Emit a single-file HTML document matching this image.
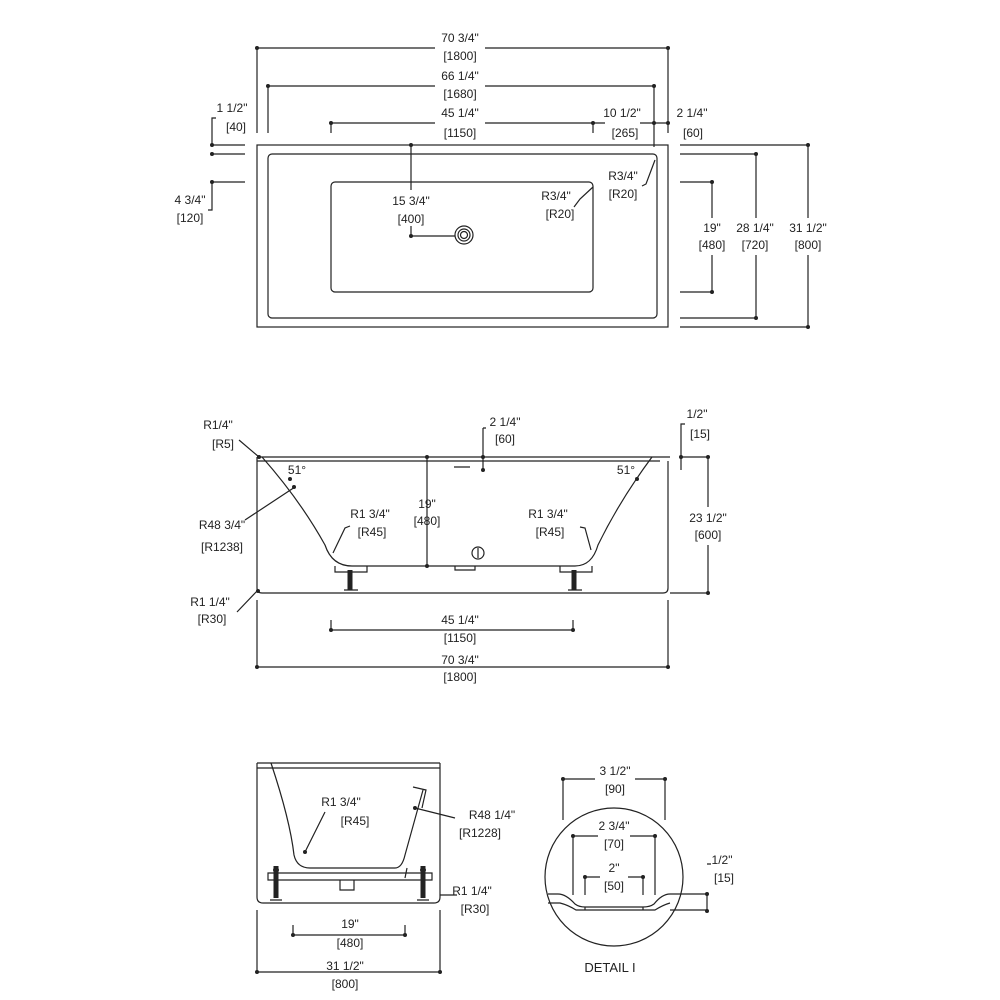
<!DOCTYPE html>
<html><head><style>body{margin:0;background:#fff}svg{display:block}text{font-family:"Liberation Sans",sans-serif;font-size:12px;fill:#222;text-anchor:middle}</style></head><body>
<svg width="1000" height="1000" viewBox="0 0 1000 1000" xmlns="http://www.w3.org/2000/svg" stroke="#222" stroke-width="1.2" fill="none">
<!-- TOP VIEW -->
<rect x="257" y="145" width="411" height="182"/>
<rect x="268" y="154" width="389" height="164" rx="4"/>
<rect x="331" y="182" width="262" height="110" rx="4"/>
<circle cx="464" cy="235" r="9"/><circle cx="464" cy="235" r="6"/><circle cx="464" cy="235" r="3.5"/>
<path d="M257 48H435M485 48H668M257 48V133M668 48V133M268 86H435M485 86H654M268 86V133M654 86V147M331 123H435M485 123H593M331 123V133M593 123V133M593 123H605M640 123H668M411 145V190M411 226V236H455"/>
<path d="M216 118H212V145M212 145H245M212 154H245M212 182H245M212 182V210H208M680 145H808M680 154H756M680 182H712M680 292H712M680 318H756M680 327H808M712 182V218M712 255V292M756 154V218M756 255V318M808 145V218M808 255V327M574 207L580 199 593 187M642 186L646 184 655 160"/>
<g fill="#222" stroke="none"><circle cx="257" cy="48" r="2"/><circle cx="668" cy="48" r="2"/><circle cx="268" cy="86" r="2"/><circle cx="654" cy="86" r="2"/><circle cx="331" cy="123" r="2"/><circle cx="593" cy="123" r="2"/><circle cx="654" cy="123" r="2"/><circle cx="668" cy="123" r="2"/><circle cx="212" cy="145" r="2"/><circle cx="212" cy="154" r="2"/><circle cx="212" cy="182" r="2"/><circle cx="411" cy="145" r="2"/><circle cx="411" cy="236" r="2"/><circle cx="712" cy="182" r="2"/><circle cx="712" cy="292" r="2"/><circle cx="756" cy="154" r="2"/><circle cx="756" cy="318" r="2"/><circle cx="808" cy="145" r="2"/><circle cx="808" cy="327" r="2"/></g>
<g stroke="none">
<text x="460" y="42">70 3/4"</text><text x="460" y="60">[1800]</text>
<text x="460" y="80">66 1/4"</text><text x="460" y="98">[1680]</text>
<text x="460" y="117">45 1/4"</text><text x="460" y="137">[1150]</text>
<text x="622" y="117">10 1/2"</text><text x="625" y="137">[265]</text>
<text x="692" y="117">2 1/4"</text><text x="693" y="137">[60]</text>
<text x="232" y="112">1 1/2"</text><text x="236" y="131">[40]</text>
<text x="190" y="204">4 3/4"</text><text x="190" y="222">[120]</text>
<text x="411" y="205">15 3/4"</text><text x="411" y="223">[400]</text>
<text x="556" y="200">R3/4"</text><text x="560" y="218">[R20]</text>
<text x="623" y="180">R3/4"</text><text x="623" y="198">[R20]</text>
<text x="712" y="232">19"</text><text x="712" y="249">[480]</text>
<text x="755" y="232">28 1/4"</text><text x="755" y="249">[720]</text>
<text x="808" y="232">31 1/2"</text><text x="808" y="249">[800]</text>
</g>
<!-- SIDE VIEW -->
<path d="M257 457H670M257 461H660M257 457V588Q257 593 262 593H663Q668 593 668 588V461"/>
<path d="M262 457Q300 500 325 545Q332 566 352 566H575Q592 566 598 545Q620 500 652 457"/>
<path d="M454 467H470M335 566V572H367V566M560 566V572H592V566M455 566V570H475V566"/>
<path d="M350 570V590M574 570V590" stroke-width="5"/><path d="M344 590H358M568 590H582"/>
<circle cx="478" cy="553" r="6"/><path d="M478 548V558"/>
<path d="M331 620V630H573V620M257 600V667H668V600M427 457V566M483 428V470M486 428H483M685 424H681V470M670 593H708M680 457H708M708 457V507M708 545V593"/>
<path d="M239 440L259 457M245 520L295 487M333 553L345 528 350 526M591 550L585 528 580 527M237 612L258 590"/>
<g fill="#222" stroke="none"><circle cx="259" cy="457" r="2"/><circle cx="294" cy="487" r="2"/><circle cx="331" cy="630" r="2"/><circle cx="573" cy="630" r="2"/><circle cx="257" cy="667" r="2"/><circle cx="668" cy="667" r="2"/><circle cx="427" cy="457" r="2"/><circle cx="427" cy="566" r="2"/><circle cx="483" cy="457" r="2"/><circle cx="483" cy="470" r="2"/><circle cx="681" cy="457" r="2"/><circle cx="708" cy="457" r="2"/><circle cx="708" cy="593" r="2"/><circle cx="258" cy="591" r="2"/><circle cx="290" cy="479" r="2"/><circle cx="637" cy="479" r="2"/></g>
<g stroke="none">
<text x="218" y="429">R1/4"</text><text x="223" y="448">[R5]</text>
<text x="222" y="529">R48 3/4"</text><text x="222" y="551">[R1238]</text>
<text x="370" y="518">R1 3/4"</text><text x="372" y="536">[R45]</text>
<text x="548" y="518">R1 3/4"</text><text x="550" y="536">[R45]</text>
<text x="297" y="474">51°</text><text x="626" y="474">51°</text>
<text x="427" y="508">19"</text><text x="427" y="525">[480]</text>
<text x="505" y="426">2 1/4"</text><text x="505" y="443">[60]</text>
<text x="697" y="418">1/2"</text><text x="700" y="438">[15]</text>
<text x="708" y="522">23 1/2"</text><text x="708" y="539">[600]</text>
<text x="210" y="606">R1 1/4"</text><text x="212" y="623">[R30]</text>
<text x="460" y="624">45 1/4"</text><text x="460" y="642">[1150]</text>
<text x="460" y="664">70 3/4"</text><text x="460" y="681">[1800]</text>
</g>
<!-- END VIEW -->
<path d="M257 763H440M257 768H440M257 763V897Q257 903 263 903H434Q440 903 440 897V763"/>
<path d="M271 763Q290 820 294 855Q297 868 310 868H395Q402 868 405 855L423 790M413 787L426 790 422 808M407 868L405 878"/>
<path d="M268 873H432V880H268Z"/><path d="M340 880V890H354V880"/>
<path d="M276 866V898M423 866V898" stroke-width="5"/><path d="M270 900H282M417 900H429"/>
<path d="M293 925V935H405V925M257 910V972H440V910"/>
<path d="M305 852L325 812M415 808L455 818M440 895L457 895"/>
<g fill="#222" stroke="none"><circle cx="305" cy="852" r="2"/><circle cx="415" cy="808" r="2"/><circle cx="293" cy="935" r="2"/><circle cx="405" cy="935" r="2"/><circle cx="257" cy="972" r="2"/><circle cx="440" cy="972" r="2"/><circle cx="276" cy="870" r="3"/><circle cx="423" cy="870" r="3"/></g>
<g stroke="none">
<text x="341" y="806">R1 3/4"</text><text x="355" y="825">[R45]</text>
<text x="492" y="819">R48 1/4"</text><text x="480" y="837">[R1228]</text>
<text x="472" y="895">R1 1/4"</text><text x="475" y="913">[R30]</text>
<text x="350" y="928">19"</text><text x="350" y="947">[480]</text>
<text x="345" y="970">31 1/2"</text><text x="345" y="988">[800]</text>
</g>
<!-- DETAIL -->
<circle cx="614" cy="877" r="69"/>
<path d="M548 894H558Q566 894 575 904Q579 907 585 907H643Q650 907 654 904Q662 894 670 894H707M548 903H560Q568 905 576 910H655Q663 905 670 903M585 907V910M643 907V910M670 910H707M707 894V911"/>
<path d="M563 779V820M665 779V820M563 779H595M635 779H665M573 836V895M655 836V895M573 836H598M630 836H655M585 877V895M643 877V895M585 877H600M628 877H643M707 864H711"/>
<g fill="#222" stroke="none"><circle cx="563" cy="779" r="2"/><circle cx="665" cy="779" r="2"/><circle cx="573" cy="836" r="2"/><circle cx="655" cy="836" r="2"/><circle cx="585" cy="877" r="2"/><circle cx="643" cy="877" r="2"/><circle cx="707" cy="894" r="2"/><circle cx="707" cy="911" r="2"/></g>
<g stroke="none">
<text x="615" y="775">3 1/2"</text><text x="615" y="793">[90]</text>
<text x="614" y="830">2 3/4"</text><text x="614" y="848">[70]</text>
<text x="614" y="872">2"</text><text x="614" y="890">[50]</text>
<text x="722" y="864">1/2"</text><text x="724" y="882">[15]</text>
<text x="610" y="972" style="font-size:13px">DETAIL I</text>
</g>
</svg>
</body></html>
